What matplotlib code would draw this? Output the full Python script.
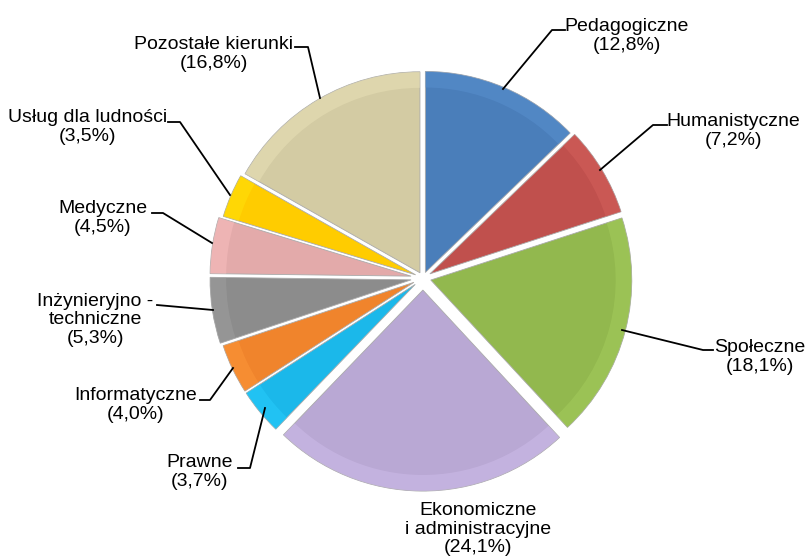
import matplotlib
matplotlib.use('Agg')
import matplotlib.pyplot as plt
import matplotlib.colors as mcolors

plt.rcParams['font.family'] = ['Liberation Sans', 'DejaVu Sans']

# dane
kierunki = ['Pedagogiczne', 'Humanistyczne', 'Społeczne', 'Ekonomiczne\ni administracyjne',
            'Prawne', 'Informatyczne', 'Inżynieryjno -\ntechniczne', 'Medyczne',
            'Usług dla ludności', 'Pozostałe kierunki']
udzialy = [12.8, 7.2, 18.1, 24.1, 3.7, 4.0, 5.3, 4.5, 3.5, 16.8]
kolory = ['#4A7EBA', '#C0504D', '#92B84E', '#B9A8D4', '#1BB8EA',
          '#F0842C', '#8C8C8C', '#E3AAAA', '#FFCC00', '#D3CBA3']
# wysuniecie wycinkow jako ulamek promienia
wysuniecie = [0.03, 0.04, 0.04, 0.06, 0.05, 0.05, 0.06, 0.06, 0.04, 0.03]

W, H = 806, 559
fig = plt.figure(figsize=(W / 100, H / 100), dpi=100)
ax = fig.add_axes([0, 0, 1, 1])

cx, cy, r = 423, H - 278, 201
explode = [e * r for e in wysuniecie]  # pie przyjmuje przesuniecie w jednostkach danych

ax.pie(udzialy, colors=kolory, explode=explode, startangle=90,
       counterclock=False, center=(cx, cy), radius=r, frame=True,
       wedgeprops=dict(edgecolor='#AAAAAA', linewidth=0.6))

# lekko jasniejsza obwodka (imitacja fazowania)
jasne = [mcolors.to_hex([min(1, c * 1.06 + 0.05) for c in mcolors.to_rgb(k)]) for k in kolory]
ax.pie(udzialy, colors=jasne, explode=explode, startangle=90,
       counterclock=False, center=(cx, cy), radius=r, frame=True,
       wedgeprops=dict(width=r * 0.08, edgecolor='none', alpha=0.45))

ax.set_xlim(0, W)
ax.set_ylim(0, H)
ax.set_aspect('equal')
ax.axis('off')

etykiety = [f'{k}\n({str(v).replace(".", ",")}%)' for k, v in zip(kierunki, udzialy)]

# pozycje etykiet (srodek tekstu, punkty linii) w pikselach od gory
ustawienia = [
    ((627, 36), [(503, 89), (552, 30), (565, 30)]),
    ((733, 131), [(600, 170), (653, 125), (667, 125)]),
    ((760, 357), [(622, 330), (703, 350), (713, 350)]),
    ((478, 529), None),
    ((200, 472), [(265, 408), (250, 468), (238, 468)]),
    ((136, 405), [(233, 368), (210, 400), (200, 400)]),
    ((95, 320), [(213, 310), (157, 305)]),
    ((103, 218), [(212, 243), (163, 213), (152, 213)]),
    ((88, 127), [(230, 195), (180, 122), (168, 122)]),
    ((214, 54), [(320, 98), (308, 47), (295, 47)]),
]

for tekst, ((tx, ty), linia) in zip(etykiety, ustawienia):
    ax.text(tx, H - ty, tekst, ha='center', va='center', fontsize=14,
            linespacing=1.12, color='black')
    if linia:
        ax.plot([p[0] for p in linia], [H - p[1] for p in linia], color='black', lw=1.3)

fig.savefig('out.png', dpi=100)
